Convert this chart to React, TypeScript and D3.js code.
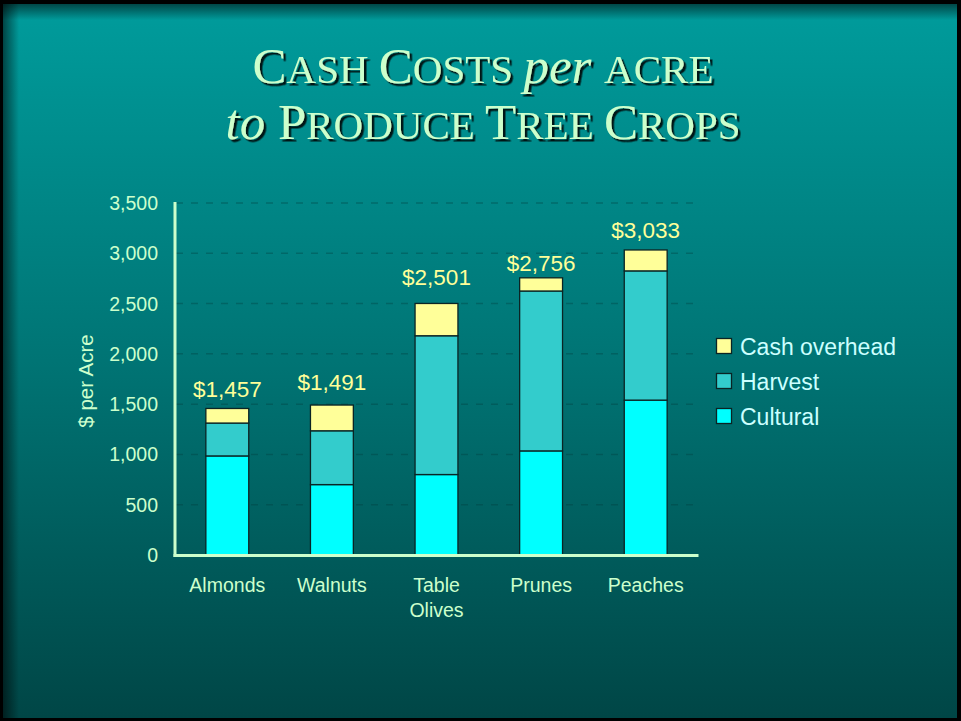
import React from "react";
import * as d3 from "d3";

const categories = ["Almonds", "Walnuts", "Table Olives", "Prunes", "Peaches"];
const cultural = [985, 700, 800, 1035, 1540];
const harvest = [327, 535, 1380, 1590, 1285];
const overhead = [145, 256, 321, 131, 208];
const seriesNames = ["Cultural", "Harvest", "Cash overhead"];
const seriesColors = ["#00ffff", "#33cccc", "#ffff99"];
const yTicks = [0, 500, 1000, 1500, 2000, 2500, 3000, 3500];

// gap (px) between each total label baseline and its bar top, as placed in the reference
const labelGap = [11, 15, 18, 7, 12];

const W = 961;
const H = 721;

export default function App() {
  const x = d3.scaleBand<string>().domain(categories).range([175, 698]).paddingInner(0.59).paddingOuter(0.295);
  const y = d3.scaleLinear().domain([0, 3500]).range([555, 203]);

  const rows = categories.map((c, i) => ({ cat: c, Cultural: cultural[i], Harvest: harvest[i], "Cash overhead": overhead[i] }));
  const stack = d3.stack<any>().keys(seriesNames);
  const stacked = stack(rows);
  const fmt = d3.format(",");

  const titleFill = "#ccffcc";
  const B = 51;
  const S = 41;
  const serif = "'Liberation Serif', 'Times New Roman', serif";

  const legendItems = [
    { name: "Cash overhead", color: seriesColors[2] },
    { name: "Harvest", color: seriesColors[1] },
    { name: "Cultural", color: seriesColors[0] },
  ];

  return (
    <svg width={W} height={H} style={{ position: "absolute", left: 0, top: 0 }} fontFamily="'Liberation Sans', Arial, sans-serif">
      <defs>
        <linearGradient id="bg" x1="0" y1="0" x2="0" y2="1">
          <stop offset="0" stopColor="#009c9c" />
          <stop offset="0.5" stopColor="#007474" />
          <stop offset="1" stopColor="#004646" />
        </linearGradient>
        <linearGradient id="shTop" x1="0" y1="0" x2="0" y2="1">
          <stop offset="0" stopColor="#000" stopOpacity="0.55" />
          <stop offset="1" stopColor="#000" stopOpacity="0" />
        </linearGradient>
        <linearGradient id="shLeft" x1="0" y1="0" x2="1" y2="0">
          <stop offset="0" stopColor="#000" stopOpacity="0.55" />
          <stop offset="1" stopColor="#000" stopOpacity="0" />
        </linearGradient>
        <filter id="tshadow" x="-5%" y="-20%" width="110%" height="150%">
          <feDropShadow dx="2.5" dy="2.5" stdDeviation="0.4" floodColor="#001414" floodOpacity="1" />
        </filter>
      </defs>
      <rect x={0} y={0} width={W} height={H} fill="#000" />
      <rect x={3} y={4} width={W - 7} height={H - 7} fill="url(#bg)" />
      <rect x={3} y={4} width={W - 7} height={16} fill="url(#shTop)" />
      <rect x={3} y={4} width={16} height={H - 7} fill="url(#shLeft)" />

      {/* Title */}
      <g fontFamily={serif} textAnchor="middle" fill={titleFill} filter="url(#tshadow)">
        <text x={483} y={83}>
          <tspan fontSize={B}>C</tspan>
          <tspan fontSize={S}>ASH </tspan>
          <tspan fontSize={B}>C</tspan>
          <tspan fontSize={S}>OSTS </tspan>
          <tspan fontSize={B} fontStyle="italic">per </tspan>
          <tspan fontSize={S}>ACRE</tspan>
        </text>
        <text x={483} y={139}>
          <tspan fontSize={B} fontStyle="italic">to </tspan>
          <tspan fontSize={B}>P</tspan>
          <tspan fontSize={S}>RODUCE </tspan>
          <tspan fontSize={B}>T</tspan>
          <tspan fontSize={S}>REE </tspan>
          <tspan fontSize={B}>C</tspan>
          <tspan fontSize={S}>ROPS</tspan>
        </text>
      </g>

      {/* Gridlines */}
      {yTicks.filter((t) => t > 0).map((t) => (
        <line key={t} x1={176} x2={698} y1={y(t)} y2={y(t)} stroke="#003c3c" strokeOpacity={0.35} strokeWidth={1.5} strokeDasharray="7,8" />
      ))}

      {/* Bars */}
      {stacked.map((s, si) => (
        <g key={s.key}>
          {s.map((d, i) => (
            <rect
              key={i}
              x={x(categories[i])}
              y={y(d[1])}
              width={x.bandwidth()}
              height={y(d[0]) - y(d[1])}
              fill={seriesColors[si]}
              stroke="#0b2424"
              strokeWidth={1.3}
            />
          ))}
        </g>
      ))}

      {/* Total labels */}
      {categories.map((c, i) => {
        const total = cultural[i] + harvest[i] + overhead[i];
        return (
          <text key={c} x={(x(c) as number) + x.bandwidth() / 2} y={y(total) - labelGap[i]} textAnchor="middle" fill="#ffff99" fontSize={22.5}>
            ${fmt(total)}
          </text>
        );
      })}

      {/* Axes */}
      <line x1={175} x2={175} y1={202} y2={557} stroke="#ccffcc" strokeWidth={3} />
      <line x1={173.5} x2={698.5} y1={555.5} y2={555.5} stroke="#ccffcc" strokeWidth={3} />

      {yTicks.map((t) => (
        <text key={t} x={158} y={y(t) + 7} textAnchor="end" fill="#ccffcc" fontSize={19.5}>
          {fmt(t)}
        </text>
      ))}

      <text transform={`translate(93,381) rotate(-90)`} textAnchor="middle" fill="#ccffcc" fontSize={20.5}>
        $ per Acre
      </text>

      {categories.map((c) => {
        const parts = c === "Table Olives" ? ["Table", "Olives"] : [c];
        const cx = (x(c) as number) + x.bandwidth() / 2;
        return (
          <text key={c} x={cx} y={592} textAnchor="middle" fill="#ccffcc" fontSize={19.5}>
            {parts.map((p, k) => (
              <tspan key={k} x={cx} dy={k === 0 ? 0 : 25}>{p}</tspan>
            ))}
          </text>
        );
      })}

      {/* Legend */}
      {legendItems.map((l, k) => (
        <g key={l.name} transform={`translate(0, ${k * 35})`}>
          <rect x={716.5} y={338.5} width={15} height={15} fill={l.color} stroke="#0b2424" strokeWidth={1.3} />
          <text x={740} y={355} fill="#ccffff" fontSize={23}>{l.name}</text>
        </g>
      ))}
    </svg>
  );
}
